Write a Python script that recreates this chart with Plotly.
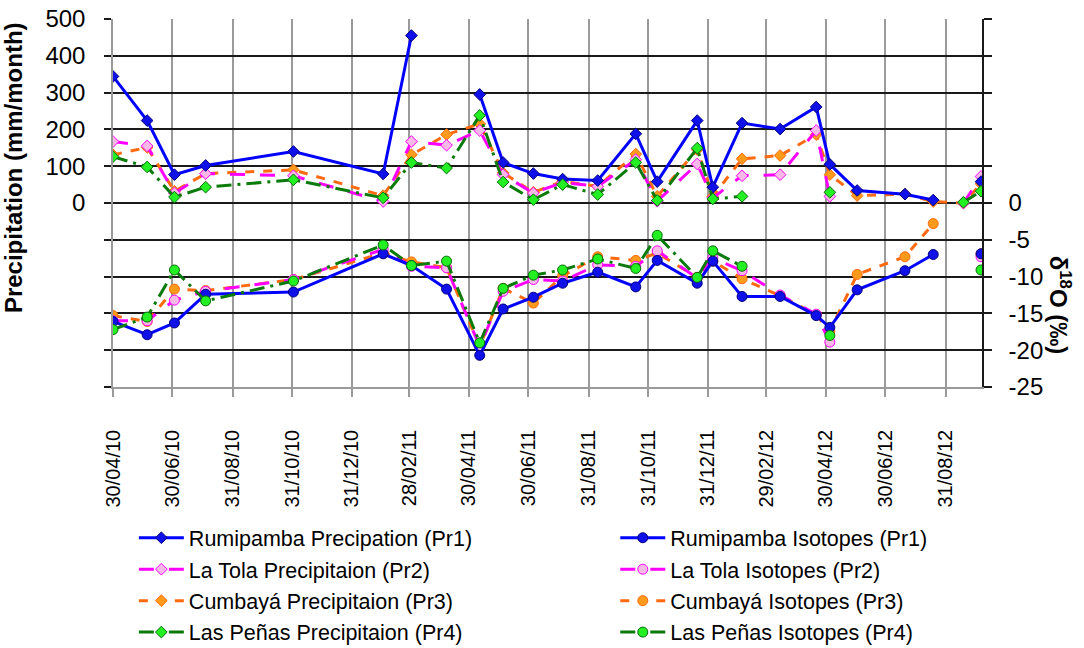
import pandas as pd
import plotly.graph_objects as go

# sampling dates
dates = ['2010-04-30', '2010-06-04', '2010-07-02', '2010-08-03', '2010-11-01',
         '2011-02-01', '2011-03-02', '2011-04-07', '2011-05-11', '2011-06-04',
         '2011-07-05', '2011-08-04', '2011-09-09', '2011-10-18', '2011-11-09',
         '2011-12-20', '2012-01-05', '2012-02-04', '2012-03-14', '2012-04-20',
         '2012-05-04', '2012-06-01', '2012-07-20', '2012-08-18', '2012-09-18',
         '2012-10-06']

# precipitation (mm/month)
rumipamba_pr = [344, 224, 77, 102, 140, 79, 455, None, 295, 110, 80, 65, 61,
                188, 58, 224, 43, 217, 201, 261, 105, 34, 24, 8, None, 58]
latola_pr = [167, 155, 27, 80, 74, 4, 167, 157, 197, 77, 27, 56, 45,
             118, 5, 106, 14, 74, 77, 197, 18, None, None, None, 0, 72]
cumbaya_pr = [131, 151, 32, 80, 90, 20, 131, 186, 215, 82, 29, 59, 45,
              133, 18, 145, 18, 120, 129, 186, 77, 20, 24, 4, 0, 52]
laspenas_pr = [126, 98, 16, 43, 63, 14, 110, 95, 238, 57, 9, 50, 23,
               110, 7, 149, 11, 18, None, None, 29, None, None, None, 2, 32]

# delta 18O (per mil)
rumipamba_iso = [-16.1, -17.9, -16.3, -12.4, -12.1, -6.9, -8.5, -11.7, -20.7, -14.4,
                 -12.8, -10.9, -9.4, -11.4, -7.8, -10.9, -7.9, -12.7, -12.7, -15.3,
                 -16.9, -11.8, -9.2, -7.0, None, -6.9]
latola_iso = [-16.0, -16.0, -13.2, -12.0, -10.4, -6.3, -8.6, -8.8, -19.5, -12.0,
              -10.4, -10.6, -8.4, -8.6, -6.5, -10.2, -7.5, -9.2, -12.5, -15.1,
              -18.9, None, None, None, None, -7.3]
cumbaya_iso = [-15.3, -16.1, -11.7, -11.9, -10.4, -6.8, -8.0, -8.8, -19.5, -11.6,
               -13.6, -9.9, -7.3, -7.8, -6.8, -10.1, -7.9, -10.3, -12.6, -15.2,
               -17.4, -9.7, -7.3, -2.8, None, -6.9]
laspenas_iso = [-17.2, -15.5, -9.1, -13.3, -10.6, -5.7, -8.5, -7.9, -19.0, -11.6,
                -9.8, -9.1, -7.6, -8.9, -4.4, -10.1, -6.5, -8.6, None, None,
                -18.0, None, None, None, None, -9.1]

tick_labels = ['30/04/10', '30/06/10', '31/08/10', '31/10/10', '31/12/10', '28/02/11',
               '30/04/11', '30/06/11', '31/08/11', '31/10/11', '31/12/11', '29/02/12',
               '30/04/12', '30/06/12', '31/08/12']

x = pd.to_datetime(dates)
tick_dates = pd.to_datetime(tick_labels, format='%d/%m/%y')

FONT = 'Liberation Sans, Arial, sans-serif'

# name, values, axis, line colour, dash, marker symbol, marker fill, marker edge, legend, rank
series = [
    ('Cumbayá Precipitaion (Pr3)', cumbaya_pr, 'y', '#FF6A10', 'dash', 'diamond', '#FF9A1A', '#FF6A10', 'legend', 3),
    ('La Tola Precipitaion (Pr2)', latola_pr, 'y', '#FF00FF', 'longdash', 'diamond', '#F8B8E8', '#FF00FF', 'legend', 2),
    ('Rumipamba Precipation (Pr1)', rumipamba_pr, 'y', '#0000FF', 'solid', 'diamond', '#1010E8', '#000080', 'legend', 1),
    ('Las Peñas Precipitaion (Pr4)', laspenas_pr, 'y', '#0A7A0A', 'longdashdot', 'diamond', '#22F022', '#0A6A0A', 'legend', 4),
    ('Cumbayá Isotopes (Pr3)', cumbaya_iso, 'y2', '#FF6A10', 'dash', 'circle', '#FF9A1A', '#FF6A10', 'legend2', 3),
    ('La Tola Isotopes (Pr2)', latola_iso, 'y2', '#FF00FF', 'longdash', 'circle', '#F8B8E8', '#FF00FF', 'legend2', 2),
    ('Rumipamba Isotopes (Pr1)', rumipamba_iso, 'y2', '#0000FF', 'solid', 'circle', '#1010E8', '#000080', 'legend2', 1),
    ('Las Peñas Isotopes (Pr4)', laspenas_iso, 'y2', '#0A7A0A', 'longdashdot', 'circle', '#22F022', '#0A6A0A', 'legend2', 4),
]

fig = go.Figure()
for name, vals, yax, lc, dash, sym, fill, edge, leg, rank in series:
    fig.add_trace(go.Scatter(
        x=x, y=vals, yaxis=yax, name=name,
        mode='lines+markers',
        line=dict(color=lc, width=3, dash=dash),
        marker=dict(symbol=sym, size=9 if sym == 'diamond' else 10,
                    color=fill, line=dict(color=edge, width=1)),
        legend=leg, legendrank=rank, legendgroup=name,
    ))

prec_ticks = list(range(-500, 501, 100))
iso_ticks = list(range(-25, 26, 5))

legend_style = dict(
    xanchor='left', yanchor='top', y=-0.354,
    font=dict(family=FONT, size=21.5, color='black'),
    bgcolor='rgba(0,0,0,0)', traceorder='grouped', tracegroupgap=0.5,
    itemwidth=45,
)

fig.update_layout(
    width=1084, height=648,
    margin=dict(l=113, r=102, t=19, b=261, autoexpand=False),
    paper_bgcolor='white', plot_bgcolor='white',
    font=dict(family=FONT, color='black'),
    showlegend=True,
    xaxis=dict(
        type='date', automargin=False,
        range=[x.min(), pd.Timestamp('2012-10-07')],
        tickvals=tick_dates, ticktext=tick_labels,
        tickangle=-90, tickfont=dict(size=20),
        showgrid=True, gridcolor='#9A9A9A', gridwidth=1.5,
        showline=True, linecolor='#9A9A9A', linewidth=1.5,
        ticks='outside', ticklen=8, tickcolor='#9A9A9A', tickwidth=1.5,
        ticklabelstandoff=25, zeroline=False,
    ),
    yaxis=dict(
        range=[-500, 500], automargin=False,
        tickvals=prec_ticks,
        ticktext=[str(v) if v >= 0 else '' for v in prec_ticks],
        tickfont=dict(size=24),
        showgrid=True, gridcolor='#1A1A1A', gridwidth=1.5,
        showline=True, linecolor='#9A9A9A', linewidth=1.5,
        ticks='outside', ticklen=7, tickcolor='#1A1A1A', tickwidth=1.5,
        ticklabelstandoff=14, zeroline=False,
    ),
    yaxis2=dict(
        overlaying='y', side='right', automargin=False,
        range=[-25, 25],
        tickvals=iso_ticks,
        ticktext=[str(v) if v <= 0 else '' for v in iso_ticks],
        tickfont=dict(size=24),
        showgrid=False,
        showline=True, linecolor='#1A1A1A', linewidth=1.5,
        ticks='outside', ticklen=8, tickcolor='#1A1A1A', tickwidth=1.5,
        ticklabelstandoff=12, zeroline=False,
    ),
    legend=dict(x=0.024, **legend_style),
    legend2=dict(x=0.578, **legend_style),
    annotations=[
        dict(text='<b>Precipitation (mm/month)</b>', xref='paper', yref='paper',
             x=-0.115, y=0.595, xanchor='center', yanchor='middle',
             textangle=-90, showarrow=False, font=dict(size=24)),
        dict(text='<b>δ<sup>18</sup>O (‰)</b>', xref='paper', yref='paper',
             x=1.09, y=0.223, xanchor='center', yanchor='middle',
             textangle=90, showarrow=False, font=dict(size=24)),
    ],
)

# drop the default 8px body margin so the figure sits at the page origin
fig.write_html('out.html', config={'displayModeBar': False},
               post_script="document.body.style.margin='0';")
